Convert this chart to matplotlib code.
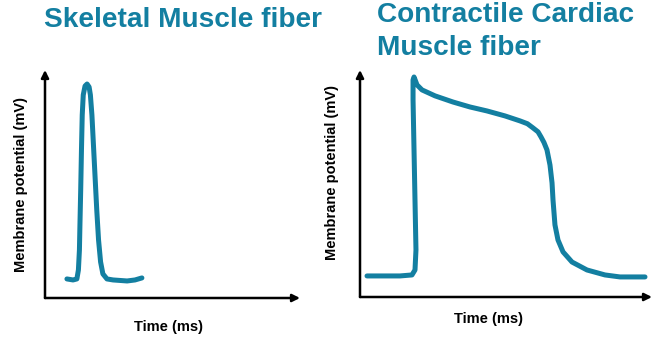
import matplotlib
matplotlib.use("Agg")
import matplotlib.pyplot as plt

# ---- data ----
skeletal_t = [0.86, 1.10, 1.25, 1.31, 1.35, 1.37, 1.40, 1.43, 1.46, 1.50, 1.57, 1.65, 1.73,
              1.78, 1.84, 1.89, 1.96, 2.03, 2.10, 2.18, 2.27, 2.43, 2.67, 3.22, 3.53, 3.80]
skeletal_mv = [-85, -85.6, -85, -79.7, -67.8, -53, -32.2, -8.5, 12.2, 24.1, 29.4, 30.6, 28.8,
               24.1, 12.2, -2.6, -23.4, -44.2, -61.9, -74.9, -82, -85, -85.6, -86.2, -85.6, -84.4]

cardiac_t = [7.2, 41.1, 53.4, 56.5, 57.5, 56.5, 55.5, 54.5, 54.5, 55.5, 58.6, 63.7, 77.1, 95.5,
             113, 130.5, 149, 164.4, 172, 177.7, 182.9, 186, 189, 192.1, 195.2, 197.3, 198.3,
             200.3, 203.4, 208.6, 217.8, 233.2, 251.7, 267.1, 292.8]
cardiac_mv = [-90, -90, -89.4, -86.4, -74.3, -44.2, -14, 16.2, 28.2, 30, 25.2, 22.2, 18.6, 14.9,
              11.9, 9.5, 6.5, 3.5, 1.8, -0.7, -3.1, -6.2, -9.5, -14, -23.1, -33.9, -44.2,
              -59.2, -68.3, -75.5, -81.6, -86.4, -89.4, -90.6, -90.6]

title_left = "Skeletal Muscle fiber"
title_right_lines = ["Contractile Cardiac", "Muscle fiber"]
ylabel = "Membrane potential (mV)"
xlabel = "Time (ms)"

TEAL = "#137fa1"
W, H = 661, 337
fig = plt.figure(figsize=(W / 100, H / 100), dpi=100)
plt.rcParams['font.family'] = ['Liberation Sans', 'DejaVu Sans']


def px_axes(l, t, r, b):
    return fig.add_axes([l / W, 1 - b / H, (r - l) / W, (b - t) / H])


def style(ax):
    for s in ax.spines.values():
        s.set_visible(False)
    ax.set_xticks([])
    ax.set_yticks([])
    ax.patch.set_alpha(0)
    kw = dict(arrowstyle='-|>', lw=1.8, color='black', mutation_scale=11,
              shrinkA=0, shrinkB=0)
    ax.annotate('', xy=(0, 1), xytext=(0, 0), xycoords='axes fraction',
                arrowprops=kw, annotation_clip=False)
    ax.annotate('', xy=(1, 0), xytext=(0, 0), xycoords='axes fraction',
                arrowprops=kw, annotation_clip=False)


ax1 = px_axes(45, 70, 300, 298)
ax1.plot(skeletal_t, skeletal_mv, color=TEAL, lw=3.6,
         solid_joinstyle='round', solid_capstyle='round')
ax1.set_xlim(0, 10)
ax1.set_ylim(-96.3, 38.9)
style(ax1)

ax2 = px_axes(360, 70, 652, 297)
ax2.plot(cardiac_t, cardiac_mv, color=TEAL, lw=3.6,
         solid_joinstyle='round', solid_capstyle='round')
ax2.set_xlim(0, 300)
ax2.set_ylim(-102.7, 34.2)
style(ax2)


def ftext(x, y, s, **kw):
    fig.text(x / W, 1 - y / H, s, **kw)


ftext(44, 27, title_left, color=TEAL, fontsize=20.2, fontweight='bold',
      ha='left', va='baseline')
ftext(377, 22, title_right_lines[0], color=TEAL, fontsize=20.2, fontweight='bold',
      ha='left', va='baseline')
ftext(377, 55, title_right_lines[1], color=TEAL, fontsize=20.2, fontweight='bold',
      ha='left', va='baseline')

ftext(21, 184, ylabel, rotation=90, fontsize=10.5, fontweight='bold',
      ha='center', va='center')
ftext(332, 172, ylabel, rotation=90, fontsize=10.5, fontweight='bold',
      ha='center', va='center')
ftext(169, 327, xlabel, fontsize=10.5, fontweight='bold', ha='center', va='center')
ftext(488, 319, xlabel, fontsize=10.5, fontweight='bold', ha='center', va='center')

fig.savefig("out.png", dpi=100)
